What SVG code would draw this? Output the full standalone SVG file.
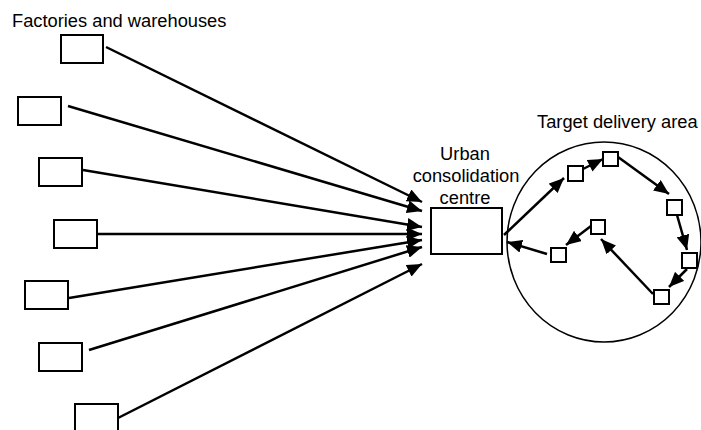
<svg xmlns="http://www.w3.org/2000/svg" width="701" height="430" viewBox="0 0 701 430">
<style>
.box{fill:#fff;stroke:#000;stroke-width:2}
.sq{fill:#fff;stroke:#000;stroke-width:2}
.ln{stroke:#000;stroke-width:2.5;fill:none;marker-end:url(#ah)}
.lbl{font-family:"Liberation Sans",Arial,sans-serif;font-size:18.3px;fill:#000}
</style>
<defs>
<marker id="ah" markerUnits="userSpaceOnUse" viewBox="0 0 15 13" markerWidth="15" markerHeight="13" refX="15" refY="6.5" orient="auto">
<path d="M0,0 L15,6.5 L0,13 z" fill="#000"/>
</marker>
</defs>
<rect width="701" height="430" fill="#fff"/>
<text class="lbl" x="12" y="27">Factories and warehouses</text>
<text class="lbl" x="537" y="128">Target delivery area</text>
<g id="area"><ellipse cx="604" cy="242" rx="97" ry="100" fill="none" stroke="#000" stroke-width="1.5"/></g>
<g id="connectors">
<line class="ln" x1="106" y1="47" x2="422" y2="202"/>
<line class="ln" x1="68" y1="106" x2="422" y2="211"/>
<line class="ln" x1="83" y1="170" x2="422" y2="227"/>
<line class="ln" x1="97" y1="234" x2="422" y2="234"/>
<line class="ln" x1="69" y1="298" x2="422" y2="240"/>
<line class="ln" x1="89" y1="350" x2="422" y2="247"/>
<line class="ln" x1="118" y1="418" x2="422" y2="264"/>
<line class="ln" x1="504" y1="235" x2="564" y2="178"/>
<line class="ln" x1="583" y1="169" x2="603" y2="159"/>
<line class="ln" x1="618" y1="157" x2="669" y2="194"/>
<line class="ln" x1="677" y1="215" x2="687" y2="250"/>
<line class="ln" x1="687" y1="269" x2="669" y2="287"/>
<line class="ln" x1="653" y1="294" x2="601" y2="239"/>
<line class="ln" x1="591" y1="226" x2="566" y2="245"/>
<line class="ln" x1="547" y1="254" x2="507" y2="242"/>
</g>
<g id="f1"><rect class="box" x="61" y="35" width="42" height="28"/></g>
<g id="f2"><rect class="box" x="18" y="97" width="43" height="28"/></g>
<g id="f3"><rect class="box" x="39" y="158" width="43" height="28"/></g>
<g id="f4"><rect class="box" x="54" y="220" width="43" height="28"/></g>
<g id="f5"><rect class="box" x="25" y="281" width="43" height="28"/></g>
<g id="f6"><rect class="box" x="39" y="343" width="43" height="28"/></g>
<g id="f7"><rect class="box" x="75" y="404" width="43" height="28"/></g>
<g id="ucc">
<rect class="box" x="431" y="208" width="71" height="46"/>
<text class="lbl" text-anchor="middle" x="465" y="160">Urban</text>
<text class="lbl" text-anchor="middle" x="466" y="182">consolidation</text>
<text class="lbl" text-anchor="middle" x="465" y="204">centre</text>
</g>
<g id="s1"><rect class="sq" x="568" y="166" width="15" height="15"/></g>
<g id="s2"><rect class="sq" x="603" y="152" width="15" height="14"/></g>
<g id="s3"><rect class="sq" x="667" y="200" width="15" height="15"/></g>
<g id="s4"><rect class="sq" x="682" y="253" width="15" height="15"/></g>
<g id="s5"><rect class="sq" x="654" y="290" width="15" height="14"/></g>
<g id="s6"><rect class="sq" x="591" y="220" width="14" height="14"/></g>
<g id="s7"><rect class="sq" x="551" y="248" width="15" height="14"/></g>
</svg>
